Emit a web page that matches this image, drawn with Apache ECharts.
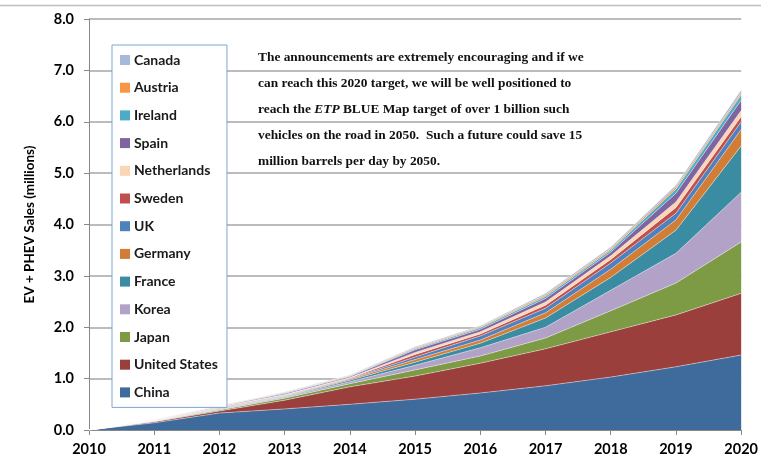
<!DOCTYPE html>
<html>
<head>
<meta charset="utf-8">
<script src="https://cdn.jsdelivr.net/npm/echarts@6/dist/echarts.min.js"></script>
<style>
  html, body { margin: 0; padding: 0; background: #fff; }
  #chart { width: 761px; height: 472px; }
</style>
</head>
<body>
<div id="chart"></div>
<script>
// Years on the horizontal axis
const years = ['2010', '2011', '2012', '2013', '2014', '2015', '2016', '2017', '2018', '2019', '2020'];

// Annual EV + PHEV sales by country (millions), stacked from the bottom up
const china       = [0, 0.14, 0.33, 0.41, 0.50, 0.60, 0.72, 0.86, 1.03, 1.23, 1.46];
const unitedStates= [0, 0.02, 0.04, 0.17, 0.34, 0.45, 0.58, 0.72, 0.88, 1.01, 1.20];
const japan       = [0, 0.01, 0.02, 0.04, 0.06, 0.12, 0.14, 0.21, 0.41, 0.62, 1.00];
const korea       = [0, 0.00, 0.01, 0.02, 0.04, 0.09, 0.16, 0.21, 0.40, 0.58, 0.97];
const france      = [0, 0.005, 0.01, 0.01, 0.03, 0.06, 0.09, 0.18, 0.25, 0.45, 0.90];
const germany     = [0, 0.005, 0.01, 0.01, 0.02, 0.05, 0.06, 0.10, 0.16, 0.20, 0.32];
const uk          = [0, 0.00, 0.01, 0.01, 0.01, 0.05, 0.08, 0.09, 0.12, 0.13, 0.15];
const sweden      = [0, 0.005, 0.01, 0.01, 0.01, 0.05, 0.04, 0.06, 0.07, 0.11, 0.10];
const netherlands = [0, 0.005, 0.01, 0.01, 0.01, 0.04, 0.04, 0.06, 0.07, 0.11, 0.12];
const spain       = [0, 0.01, 0.01, 0.02, 0.02, 0.05, 0.05, 0.07, 0.07, 0.17, 0.20];
const ireland     = [0, 0.00, 0.005, 0.01, 0.01, 0.02, 0.03, 0.04, 0.04, 0.08, 0.10];
const austria     = [0, 0.00, 0.005, 0.01, 0.01, 0.02, 0.02, 0.03, 0.03, 0.04, 0.04];
const canada      = [0, 0.00, 0.00, 0.01, 0.01, 0.02, 0.02, 0.03, 0.03, 0.04, 0.06];

// Y axis tick labels
const yTicks = ['0.0', '1.0', '2.0', '3.0', '4.0', '5.0', '6.0', '7.0', '8.0'];

const countries = [
  { name: 'China',         data: china,        color: '#3F6A9C' },
  { name: 'United States', data: unitedStates, color: '#9B3F3D' },
  { name: 'Japan',         data: japan,        color: '#7D9A44' },
  { name: 'Korea',         data: korea,        color: '#B3A2C8' },
  { name: 'France',        data: france,       color: '#3A8CA3' },
  { name: 'Germany',       data: germany,      color: '#D27D35' },
  { name: 'UK',            data: uk,           color: '#4F81BD' },
  { name: 'Sweden',        data: sweden,       color: '#C0504D' },
  { name: 'Netherlands',   data: netherlands,  color: '#FCD5B5' },
  { name: 'Spain',         data: spain,        color: '#8064A2' },
  { name: 'Ireland',       data: ireland,      color: '#4BACC6' },
  { name: 'Austria',       data: austria,      color: '#F79646' },
  { name: 'Canada',        data: canada,       color: '#A7B9DB' }
];

const chart = echarts.init(document.getElementById('chart'), null, { renderer: 'canvas' });

const labelFont = { fontFamily: 'Lato', fontWeight: 'bold', fontSize: 14.5, color: '#000' };

chart.setOption({
  animation: false,
  backgroundColor: '#fff',
  grid: { left: 89, right: 13, top: 19, bottom: 42, containLabel: false },
  xAxis: {
    type: 'category',
    data: years,
    boundaryGap: false,
    axisLine: { lineStyle: { color: '#888', width: 1 } },
    axisTick: { show: true, length: 5, lineStyle: { color: '#888' }, alignWithLabel: true },
    axisLabel: Object.assign({ margin: 12, interval: 0 }, labelFont),
    splitLine: { show: false }
  },
  yAxis: {
    type: 'value',
    min: 0,
    max: 8,
    interval: 1,
    name: 'EV + PHEV Sales (millions)',
    nameLocation: 'middle',
    nameGap: 52,
    nameRotate: 90,
    nameTextStyle: { fontFamily: 'Lato', fontWeight: 'bold', fontSize: 13.5, color: '#000' },
    axisLine: { show: true, lineStyle: { color: '#888', width: 1 } },
    axisTick: { show: true, length: 5, lineStyle: { color: '#888' } },
    axisLabel: Object.assign({ margin: 15, formatter: v => yTicks[Math.round(v)] }, labelFont),
    splitLine: { show: true, lineStyle: { color: '#A6A6A6', width: 1.5 } }
  },
  legend: {
    orient: 'vertical',
    left: 112,
    top: 45,
    data: countries.map(c => c.name).reverse(),
    icon: 'rect',
    itemWidth: 10,
    itemHeight: 10,
    itemGap: 13.7,
    backgroundColor: '#fff',
    borderColor: '#7FA5D6',
    borderWidth: 1,
    padding: [8, 9, 8, 8],
    textStyle: { fontFamily: 'Lato', fontWeight: 'bold', fontSize: 14, color: '#1a1a1a', padding: [0, 0, 0, -1] }
  },
  series: countries.map(c => ({
    name: c.name,
    type: 'line',
    stack: 'total',
    data: c.data,
    symbol: 'none',
    smooth: false,
    itemStyle: { color: c.color },
    lineStyle: { width: 0.6, color: 'rgba(255,255,255,0.7)' },
    areaStyle: { color: c.color, opacity: 1 },
    emphasis: { disabled: true }
  })),
  graphic: [
    {
      // frame line across the top of the chart area
      type: 'line',
      shape: { x1: 0, y1: 5.5, x2: 761, y2: 5.5 },
      style: { stroke: '#BFBFBF', lineWidth: 1.5 },
      silent: true
    },
    {
      type: 'text',
      left: 258,
      top: 45,
      z: 100,
      style: {
        text: [
          'The announcements are extremely encouraging and if we',
          'can reach this 2020 target, we will be well positioned to',
          'reach the {i|ETP} BLUE Map target of over 1 billion such',
          'vehicles on the road in 2050.  Such a future could save 15',
          'million barrels per day by 2050.'
        ].join('\n'),
        fontFamily: 'Liberation Serif',
        fontWeight: 'bold',
        fontSize: 13.4,
        lineHeight: 26,
        fill: '#111',
        rich: {
          i: { fontFamily: 'Liberation Serif', fontWeight: 'bold', fontStyle: 'italic', fontSize: 13.4, lineHeight: 26, fill: '#111' }
        }
      }
    }
  ]
});
</script>
</body>
</html>
